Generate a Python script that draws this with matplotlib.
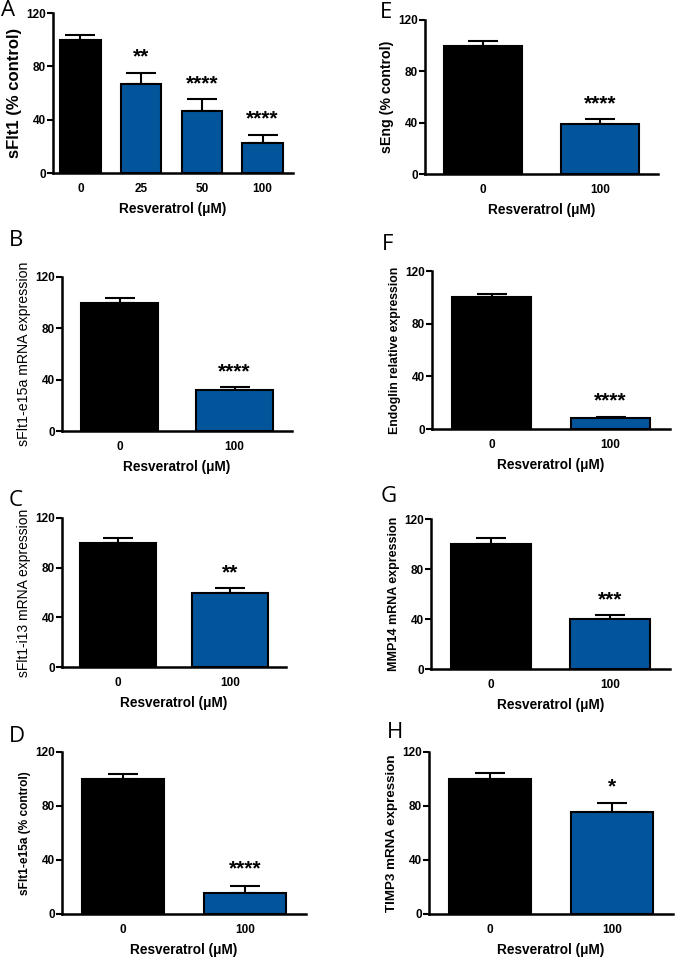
import matplotlib
matplotlib.use("Agg")
import matplotlib.pyplot as plt

plt.rcParams['font.family'] = ['Liberation Sans', 'DejaVu Sans']

BLUE = "#03559b"
W, H = 675, 957

# ---- data ----
a_doses = ["0", "25", "50", "100"]
a_means = [100, 66.5, 46.5, 22.5]
a_sem = [3.2, 8.5, 8.7, 6.2]
a_stars = ["", "**", "****", "****"]

b_doses = ["0", "100"]
b_means = [100, 31.7]
b_sem = [3.8, 2.3]
b_stars = ["", "****"]

c_doses = ["0", "100"]
c_means = [100, 59.3]
c_sem = [3.6, 4.3]
c_stars = ["", "**"]

d_doses = ["0", "100"]
d_means = [100, 15.2]
d_sem = [3.4, 5.9]
d_stars = ["", "****"]

e_doses = ["0", "100"]
e_means = [100, 38.9]
e_sem = [3.6, 3.8]
e_stars = ["", "****"]

f_doses = ["0", "100"]
f_means = [100, 8.4]
f_sem = [2.3, 1.0]
f_stars = ["", "****"]

g_doses = ["0", "100"]
g_means = [100, 40.0]
g_sem = [4.8, 3.0]
g_stars = ["", "***"]

h_doses = ["0", "100"]
h_means = [100, 75.9]
h_sem = [4.2, 6.0]
h_stars = ["", "*"]


fig = plt.figure(figsize=(W / 100, H / 100), dpi=100)


def panel(box, letter, letter_xy, doses, means, sem, stars, ylabel,
          yl_size=9, yl_bold=True, xlim=None):
    # box in pixels: left, right, top (y=120), bottom (y=0)
    l, r, t, b = box
    ax = fig.add_axes([l / W, 1 - b / H, (r - l) / W, (b - t) / H])
    x = list(range(len(doses)))
    colors = ["black"] + [BLUE] * (len(doses) - 1)
    ax.bar(x, means, width=0.67, color=colors, edgecolor="black", linewidth=1.5, zorder=2)
    ax.errorbar(x, means, yerr=[[0] * len(x), sem], fmt="none", ecolor="black",
                elinewidth=1.5, capsize=10.5, capthick=1.5, zorder=1)
    for xi, m, s, st in zip(x, means, sem, stars):
        if st:
            ax.text(xi, m + s + 12, st, ha="center", va="center",
                    fontsize=15, fontweight="bold")
    ax.set_ylim(0, 120)
    ax.set_yticks([0, 40, 80, 120])
    if xlim is None:
        xlim = (-0.5, len(doses) - 0.5)
    ax.set_xlim(*xlim)
    ax.set_xticks(x)
    ax.set_xticklabels(doses)
    ax.tick_params(axis="x", length=0, pad=7, labelsize=8.5)
    ax.tick_params(axis="y", length=4, width=1.5, pad=1, labelsize=8.5)
    for lab in ax.get_xticklabels() + ax.get_yticklabels():
        lab.set_fontweight("bold")
    for sp in ["top", "right"]:
        ax.spines[sp].set_visible(False)
    for sp in ["left", "bottom"]:
        ax.spines[sp].set_linewidth(1.8)
    ax.set_ylabel(ylabel, fontsize=yl_size, fontweight="bold" if yl_bold else "normal",
                  labelpad=3)
    ax.set_xlabel("Resveratrol (μM)", fontsize=9.8, fontweight="bold", labelpad=5)
    fig.text(letter_xy[0] / W, 1 - letter_xy[1] / H, letter, fontsize=16,
             family="Open Sans", ha="left", va="center")
    return ax


panel((53, 293, 13, 173), "A", (1, 11), a_doses, a_means, a_sem, a_stars,
      "sFlt1 (% control)", 12, True, (-0.45, 3.5))
panel((62, 292, 277, 431), "B", (9, 241), b_doses, b_means, b_sem, b_stars,
      "sFlt1-e15a mRNA expression", 10.2, False)
panel((62, 286, 518, 667), "C", (9, 500), c_doses, c_means, c_sem, c_stars,
      "sFlt1-i13 mRNA expression", 10, False)
panel((62, 306, 752, 914), "D", (9, 736), d_doses, d_means, d_sem, d_stars,
      "sFlt1-e15a (% control)", 8.6, True)
panel((425, 658, 20, 174), "E", (380, 13), e_doses, e_means, e_sem, e_stars,
      "sEng (% control)", 10.2, True)
panel((432, 670, 271, 429), "F", (382, 244), f_doses, f_means, f_sem, f_stars,
      "Endoglin relative expression", 8.8, True)
panel((431, 670, 519, 669), "G", (381, 497), g_doses, g_means, g_sem, g_stars,
      "MMP14 mRNA expression", 9, True)
panel((429, 673, 752, 914), "H", (387, 732), h_doses, h_means, h_sem, h_stars,
      "TIMP3 mRNA expression", 9.6, True)

fig.savefig("out.png", dpi=100)
